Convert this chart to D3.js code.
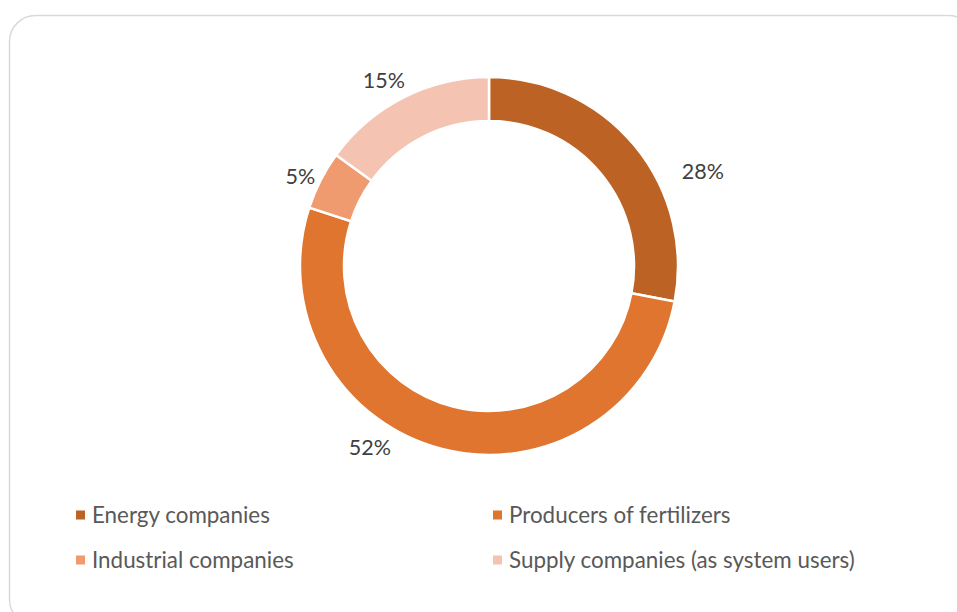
<!DOCTYPE html>
<html>
<head>
<meta charset="utf-8">
<script src="https://cdn.jsdelivr.net/npm/d3@7"></script>
<style>
  body { margin: 0; background: #fff; }
  svg { display: block; }
</style>
</head>
<body>
<svg id="chart" width="957" height="612"></svg>
<script>
// data
var categories = ["Energy companies", "Producers of fertilizers", "Industrial companies", "Supply companies (as system users)"];
var shares = [28, 52, 5, 15];
var colors = ["#bc6224", "#df752e", "#f09a70", "#f5c3b1"];

// label placement (degrees shift from slice middle, distance from centre)
var labelShift = [15.7, 18.9, -1.5, -2.6];
var labelDist = [234, 217, 209, 213];

var svg = d3.select("#chart");

// frame
svg.append("rect")
    .attr("x", 9.5)
    .attr("y", 15.5)
    .attr("width", 965)
    .attr("height", 610)
    .attr("rx", 26)
    .attr("fill", "#fff")
    .attr("stroke", "#d9d9d9")
    .attr("stroke-width", 1.5);

var cx = 489, cy = 266,
    outer = 189, inner = 145;

var data = categories.map(function (c, i) {
    return { name: c, value: shares[i], color: colors[i] };
});

var pie = d3.pie().sort(null).value(function (d) { return d.value; });
var arc = d3.arc().innerRadius(inner).outerRadius(outer);

var g = svg.append("g")
    .attr("transform", "translate(" + cx + "," + cy + ")");

var slices = pie(data);

g.selectAll(".slice")
    .data(slices)
    .enter().append("path")
    .attr("class", "slice")
    .attr("d", arc)
    .attr("fill", function (d) { return d.data.color; })
    .attr("stroke", "#fff")
    .attr("stroke-width", 2.5);

g.selectAll(".lbl")
    .data(slices)
    .enter().append("text")
    .attr("class", "lbl")
    .attr("x", function (d, i) {
        var a = (d.startAngle + d.endAngle) / 2 + labelShift[i] * Math.PI / 180;
        return Math.sin(a) * labelDist[i];
    })
    .attr("y", function (d, i) {
        var a = (d.startAngle + d.endAngle) / 2 + labelShift[i] * Math.PI / 180;
        return -Math.cos(a) * labelDist[i];
    })
    .attr("dy", "0.35em")
    .attr("text-anchor", "middle")
    .attr("font-family", "Lato, 'Open Sans', sans-serif")
    .attr("font-size", 21.5)
    .attr("fill", "#404040")
    .text(function (d) { return d.data.value + "%"; });

// legend
var legendX = d3.scalePoint().domain([0, 1]).range([76, 493]);
var legendY = d3.scalePoint().domain([0, 1]).range([515, 560]);

var items = svg.selectAll(".legend")
    .data(data)
    .enter().append("g")
    .attr("class", "legend")
    .attr("transform", function (d, i) {
        return "translate(" + legendX(i % 2) + "," + legendY(Math.floor(i / 2)) + ")";
    });

items.append("rect")
    .attr("x", 0)
    .attr("y", -4.5)
    .attr("width", 9)
    .attr("height", 9)
    .attr("fill", function (d) { return d.color; });

items.append("text")
    .attr("x", 16)
    .attr("y", 0)
    .attr("dy", "0.35em")
    .attr("font-family", "Lato, 'Open Sans', sans-serif")
    .attr("font-size", 22.4)
    .attr("fill", "#595959")
    .text(function (d) { return d.name; });
</script>
</body>
</html>
